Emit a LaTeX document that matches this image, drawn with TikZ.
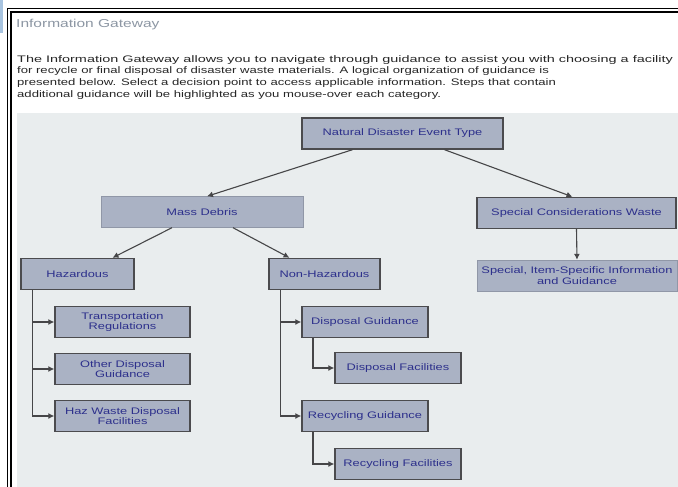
\documentclass[tikz,border=0pt]{standalone}
\usepackage{fontspec}
\setmainfont{Liberation Sans}[FakeStretch=1.35]
\newfontfamily\introfont{Liberation Sans}[FakeStretch=1.38]
\newfontfamily\introwide{Liberation Sans}[FakeStretch=1.52]
\usetikzlibrary{arrows.meta}
\usetikzlibrary{calc}

\definecolor{boxfill}{RGB}{170,178,196}
\definecolor{boxline}{RGB}{75,75,78}
\definecolor{boxtext}{RGB}{45,48,140}
\definecolor{panel}{RGB}{233,237,238}
\definecolor{titlegray}{RGB}{140,150,163}
\definecolor{linkgray}{RGB}{70,70,72}
\definecolor{tabblue}{RGB}{168,196,224}

\tikzset{
  box/.style={draw=boxline, line width=1.4pt, fill=boxfill, text=boxtext,
    minimum height=31pt, inner sep=1pt, align=center,
    font=\fontsize{9.5}{10.5}\selectfont},
  flatbox/.style={box, draw=boxfill!85!black, line width=0.4pt},
  link/.style={draw=linkgray, line width=1.1pt, -{Latex[length=6pt,width=6pt]}},
}

\begin{document}
\begin{tikzpicture}[x=1pt,y=-1pt]
\useasboundingbox (0,0) rectangle (678,487);
% frame and panel
\fill[tabblue] (0,0) rectangle (2.5,33);
\fill[panel] (17,113) rectangle (678,487);
\draw[black, line width=1.2pt] (7.5,487) -- (7.5,8.5) -- (678,8.5);
\draw[black, line width=1.2pt] (11,487) -- (11,12) -- (678,12);

% heading and intro
\node[anchor=base west, inner sep=0, text=titlegray, font=\fontsize{11.5}{13}\selectfont] (title) at (16,28) {Information Gateway};
\node[anchor=north west, inner sep=0, align=left, text=black!85, font=\introfont\fontsize{9.5}{11.7}\selectfont] (intro) at (17,55)
  {{\introwide The Information Gateway allows you to navigate through guidance to assist you with choosing a facility}\\
   for recycle or final disposal of disaster waste materials. A logical organization of guidance is\\
   presented below. Select a decision point to access applicable information. Steps that contain\\
   additional guidance will be highlighted as you mouse-over each category.};

% top levels
\node[box, minimum width=201pt] (event) at (402.5,133.5) {Natural Disaster Event Type};
\node[flatbox, minimum width=202pt] (mass) at (202,212) {Mass Debris};
\node[box, minimum width=199pt] (special) at (576.5,213) {Special Considerations Waste};
\node[flatbox, minimum width=200pt] (item) at (577,275.5) {Special, Item-Specific Information\\and Guidance};
\node[box, minimum width=113pt] (haz) at (77.5,274) {Hazardous};
\node[box, minimum width=111pt] (nonhaz) at (324.5,274) {Non-Hazardous};

% hazardous branch
\node[box, minimum width=135pt] (transport) at (122.5,322) {Transportation\\Regulations};
\node[box, minimum width=135pt] (otherdisp) at (122.5,369) {Other Disposal\\Guidance};
\node[box, minimum width=135pt] (hazfac) at (122.5,416) {Haz Waste Disposal\\Facilities};

% non-hazardous branch
\node[box, minimum width=126pt] (dispguide) at (365,322) {Disposal Guidance};
\node[box, minimum width=126pt] (dispfac) at (398,368) {Disposal Facilities};
\node[box, minimum width=126pt] (recguide) at (365,416) {Recycling Guidance};
\node[box, minimum width=126pt] (recfac) at (398,464) {Recycling Facilities};

% connectors
\draw[link] ([xshift=-50]event.south) -- ([xshift=5]mass.north);
\draw[link] ([xshift=42]event.south) -- ([xshift=-4]special.north);
\draw[link] ([xshift=-30]mass.south) -- ([xshift=35]haz.north);
\draw[link] ([xshift=31]mass.south) -- ([xshift=-35]nonhaz.north);
\draw[link] (special.south) -- (item.north);
\foreach \n in {transport,otherdisp,hazfac}
  \draw[link] ([xshift=-45]haz.south) |- (\n.west);
\foreach \n in {dispguide,recguide}
  \draw[link] ([xshift=-44]nonhaz.south) |- (\n.west);
\draw[link] ([xshift=-52]dispguide.south) |- (dispfac.west);
\draw[link] ([xshift=-52]recguide.south) |- (recfac.west);
\end{tikzpicture}
\end{document}
